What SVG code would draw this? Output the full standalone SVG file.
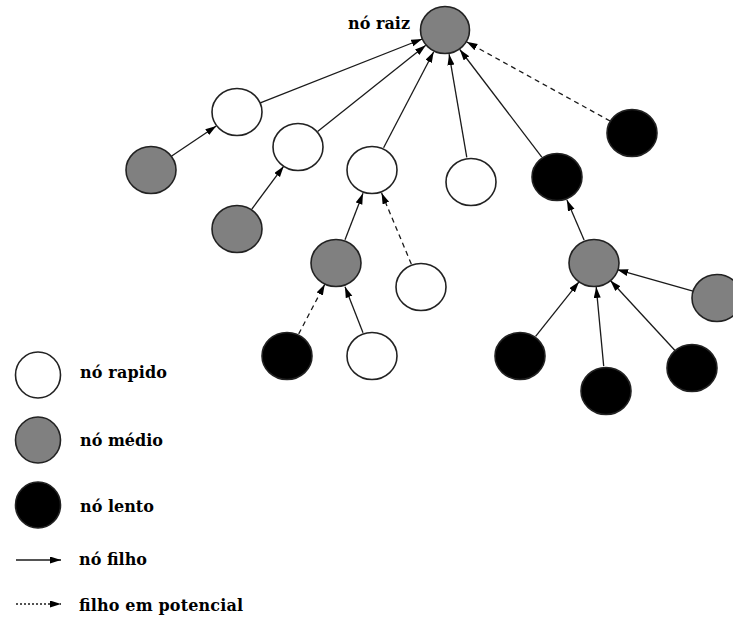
<svg xmlns="http://www.w3.org/2000/svg" width="733" height="620" viewBox="0 0 733 620">
  <style>
    .node { stroke: #222; stroke-width: 1.6; }
    .fast { fill: #ffffff; }
    .mid { fill: #808080; }
    .slow { fill: #000000; }
    .edge { stroke: #1a1a1a; stroke-width: 1.3; fill: none; marker-end: url(#arrow); }
    .pot { stroke-dasharray: 5 4; }
    .dot { stroke-dasharray: 2 2; }
    .lbl { font-family: 'DejaVu Serif', 'Liberation Serif', serif; font-weight: bold; font-size: 16px; fill: #000; }
  </style>
  <defs>
    <marker id="arrow" markerUnits="userSpaceOnUse" markerWidth="12" markerHeight="8" refX="11" refY="3.5" orient="auto">
      <path d="M0,0 L11,3.5 L0,7 z" fill="#000"/>
    </marker>
  </defs>
  <rect width="733" height="620" fill="#ffffff"/>

  <g id="connectors">
    <line class="edge" x1="260.3" y1="102.8" x2="422.2" y2="39.0"/>
    <line class="edge" x1="317.6" y1="131.4" x2="425.8" y2="45.3"/>
    <line class="edge" x1="383.6" y1="147.8" x2="433.7" y2="51.7"/>
    <line class="edge" x1="466.8" y1="157.4" x2="449.1" y2="54.2"/>
    <line class="edge" x1="541.8" y1="157.1" x2="459.8" y2="49.5"/>
    <line class="edge pot" x1="610.1" y1="121.0" x2="466.5" y2="41.8"/>
    <line class="edge" x1="171.7" y1="156.0" x2="216.3" y2="126.0"/>
    <line class="edge" x1="251.9" y1="209.0" x2="283.7" y2="166.2"/>
    <line class="edge" x1="345.0" y1="239.7" x2="363.0" y2="193.3"/>
    <line class="edge pot" x1="411.3" y1="264.0" x2="381.6" y2="193.0"/>
    <line class="edge pot" x1="298.7" y1="333.9" x2="324.8" y2="284.2"/>
    <line class="edge" x1="363.0" y1="332.7" x2="345.0" y2="286.7"/>
    <line class="edge" x1="584.1" y1="240.0" x2="566.9" y2="200.0"/>
    <line class="edge" x1="535.6" y1="336.4" x2="579.0" y2="281.8"/>
    <line class="edge" x1="603.7" y1="366.1" x2="596.2" y2="286.9"/>
    <line class="edge" x1="675.0" y1="350.5" x2="610.4" y2="280.5"/>
    <line class="edge" x1="693.0" y1="291.2" x2="617.1" y2="269.6"/>
  </g>

  <g id="root">
    <ellipse class="node mid" cx="445" cy="30" rx="24.5" ry="23.5"/>
    <text class="lbl" x="348" y="29" textLength="62">nó raiz</text>
  </g>
  <g id="n-a"><ellipse class="node fast" cx="237" cy="112" rx="25" ry="23.5"/></g>
  <g id="n-b"><ellipse class="node mid" cx="151" cy="170" rx="25" ry="23.5"/></g>
  <g id="n-c"><ellipse class="node fast" cx="298" cy="147" rx="25" ry="23.5"/></g>
  <g id="n-d"><ellipse class="node mid" cx="237" cy="229" rx="25" ry="23.5"/></g>
  <g id="n-e"><ellipse class="node fast" cx="372" cy="170" rx="25" ry="23.5"/></g>
  <g id="n-f"><ellipse class="node fast" cx="471" cy="182" rx="25" ry="23.5"/></g>
  <g id="n-g"><ellipse class="node mid" cx="336" cy="263" rx="25" ry="23.5"/></g>
  <g id="n-h"><ellipse class="node fast" cx="421" cy="287" rx="25" ry="23.5"/></g>
  <g id="n-i"><ellipse class="node slow" cx="287" cy="356" rx="25" ry="23.5"/></g>
  <g id="n-j"><ellipse class="node fast" cx="372" cy="356" rx="25" ry="23.5"/></g>
  <g id="n-k"><ellipse class="node slow" cx="557" cy="177" rx="25" ry="23.5"/></g>
  <g id="n-l"><ellipse class="node slow" cx="632" cy="133" rx="25" ry="23.5"/></g>
  <g id="n-m"><ellipse class="node mid" cx="594" cy="263" rx="25" ry="23.5"/></g>
  <g id="n-n"><ellipse class="node mid" cx="717" cy="298" rx="25" ry="23.5"/></g>
  <g id="n-o"><ellipse class="node slow" cx="520" cy="356" rx="25" ry="23.5"/></g>
  <g id="n-p"><ellipse class="node slow" cx="606" cy="391" rx="25" ry="23.5"/></g>
  <g id="n-q"><ellipse class="node slow" cx="692" cy="368" rx="25" ry="23.5"/></g>

  <g id="legend">
    <g id="legend-fast">
      <ellipse class="node fast" cx="38" cy="375" rx="22.5" ry="23"/>
      <text class="lbl" x="80" y="378" textLength="87">nó rapido</text>
    </g>
    <g id="legend-mid">
      <ellipse class="node mid" cx="38" cy="440" rx="22.5" ry="23"/>
      <text class="lbl" x="80" y="446">nó médio</text>
    </g>
    <g id="legend-slow">
      <ellipse class="node slow" cx="38" cy="505" rx="22.5" ry="23"/>
      <text class="lbl" x="80" y="512">nó lento</text>
    </g>
    <g id="legend-child">
      <line class="edge" x1="16" y1="560" x2="61" y2="560"/>
      <text class="lbl" x="79" y="565" textLength="68">nó filho</text>
    </g>
    <g id="legend-potential">
      <line class="edge dot" x1="16" y1="604" x2="61" y2="604"/>
      <text class="lbl" x="79" y="611" textLength="164">filho em potencial</text>
    </g>
  </g>
</svg>
